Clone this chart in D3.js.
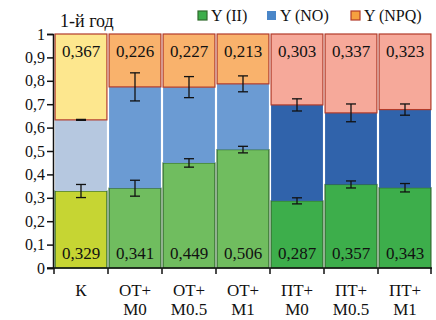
<!DOCTYPE html>
<html>
<head>
<meta charset="utf-8">
<script src="https://cdn.jsdelivr.net/npm/d3@7"></script>
<style>
  body { margin: 0; background: #fff; }
</style>
</head>
<body>
<div id="container"></div>
<script>
const width = 436;
const height = 320;
const serif = "'Liberation Serif', 'Times New Roman', 'DejaVu Serif', serif";

// data
const groups = ["К", "ОТ+\nМ0", "ОТ+\nМ0.5", "ОТ+\nМ1", "ПТ+\nМ0", "ПТ+\nМ0.5", "ПТ+\nМ1"];
const kinds = ["K", "OT", "OT", "OT", "PT", "PT", "PT"];
const yII = [0.329, 0.341, 0.449, 0.506, 0.287, 0.357, 0.343];
const yNPQ = [0.367, 0.226, 0.227, 0.213, 0.303, 0.337, 0.323];
const yNO = yII.map((v, i) => +(1 - v - yNPQ[i]).toFixed(3));
const errII = [0.028, 0.034, 0.018, 0.014, 0.013, 0.015, 0.018];
const errNO = [0.002, 0.06, 0.045, 0.034, 0.026, 0.038, 0.024];
const yTicks = [0, 0.1, 0.2, 0.3, 0.4, 0.5, 0.6, 0.7, 0.8, 0.9, 1];
const series = ["II", "NO", "NPQ"];
const legendLabels = ["Y (II)", "Y (NO)", "Y (NPQ)"];

const palette = {
  K:  { II: "#c6d533", NO: "#b6c8e0", NPQ: "#fde78e" },
  OT: { II: "#70bd5f", NO: "#6b9bd3", NPQ: "#f9b26c" },
  PT: { II: "#3dae4b", NO: "#3063ab", NPQ: "#f6a99a" }
};
const strokes = { II: "#2f6a2c", NO: "none", NPQ: "#b23b2a" };

const margin = { top: 34, right: 4, bottom: 52, left: 54 };

const svg = d3.select("#container")
              .append("svg")
              .attr("width", width)
              .attr("height", height)
              .style("font-family", serif);

const x = d3.scaleBand()
            .domain(groups)
            .range([margin.left, width - margin.right])
            .paddingInner(0.04)
            .paddingOuter(0.02);
const y = d3.scaleLinear()
            .domain([0, 1])
            .range([height - margin.bottom, margin.top]);

const table = groups.map((g, i) => ({ group: g, kind: kinds[i], II: yII[i], NO: yNO[i], NPQ: yNPQ[i] }));
const stacked = d3.stack().keys(series)(table);

stacked.forEach((layer) => {
  svg.append("g")
     .selectAll("rect")
     .data(layer)
     .enter()
     .append("rect")
     .attr("x", d => x(d.data.group))
     .attr("width", x.bandwidth())
     .attr("y", d => y(d[1]))
     .attr("height", d => y(d[0]) - y(d[1]))
     .style("fill", d => palette[d.data.kind][layer.key])
     .style("stroke", strokes[layer.key])
     .style("stroke-width", 1.2);
});

// error bars
const errData = [];
groups.forEach((g, i) => {
  errData.push({ g: g, v: yII[i], e: errII[i] });
  errData.push({ g: g, v: yII[i] + yNO[i], e: errNO[i] });
});
const eg = svg.append("g").attr("stroke", "#111").attr("stroke-width", 1.3);
errData.forEach((d) => {
  const cx = x(d.g) + x.bandwidth() / 2;
  eg.append("line").attr("x1", cx).attr("x2", cx).attr("y1", y(d.v - d.e)).attr("y2", y(d.v + d.e));
  eg.append("line").attr("x1", cx - 5).attr("x2", cx + 5).attr("y1", y(d.v - d.e)).attr("y2", y(d.v - d.e));
  eg.append("line").attr("x1", cx - 5).attr("x2", cx + 5).attr("y1", y(d.v + d.e)).attr("y2", y(d.v + d.e));
});

// value labels
const fmt = v => v.toFixed(3).replace(".", ",");
svg.append("g")
   .selectAll("text")
   .data(table)
   .enter()
   .append("text")
   .attr("x", d => x(d.group) + x.bandwidth() / 2)
   .attr("y", y(0) - 9)
   .attr("text-anchor", "middle")
   .style("font-family", serif)
   .style("font-size", "17px")
   .style("fill", "#111")
   .text(d => fmt(d.II));
svg.append("g")
   .selectAll("text")
   .data(table)
   .enter()
   .append("text")
   .attr("x", d => x(d.group) + x.bandwidth() / 2)
   .attr("y", y(1) + 23)
   .attr("text-anchor", "middle")
   .style("font-family", serif)
   .style("font-size", "17px")
   .style("fill", "#111")
   .text(d => fmt(d.NPQ));

// y axis
const yAxis = d3.axisLeft(y)
                .tickValues(yTicks)
                .tickSize(6)
                .tickFormat(d => String(d).replace(".", ","));
const yg = svg.append("g")
              .attr("transform", "translate(" + (margin.left - 1) + ",0)")
              .call(yAxis)
              .attr("font-family", null);
yg.select(".domain").attr("stroke", "#111").attr("stroke-width", 1.5);
yg.selectAll(".tick line").attr("stroke", "#111").attr("stroke-width", 1.5);
yg.selectAll(".tick text")
  .attr("x", -8)
  .style("font-family", serif)
  .style("font-size", "16px")
  .style("fill", "#111");

// x axis
const xg = svg.append("g").attr("transform", "translate(0," + y(0) + ")");
xg.append("line")
  .attr("x1", margin.left - 7).attr("x2", width - margin.right)
  .attr("stroke", "#111").attr("stroke-width", 1.5);
const bounds = groups.map(g => x(g) - x.step() * x.paddingInner() / 2).concat([width - margin.right - 1]);
xg.selectAll(".xt")
  .data(bounds)
  .enter()
  .append("line")
  .attr("x1", d => d).attr("x2", d => d)
  .attr("y1", 0).attr("y2", 6)
  .attr("stroke", "#111").attr("stroke-width", 1.5);
const xl = xg.selectAll(".xl")
             .data(groups)
             .enter()
             .append("text")
             .attr("text-anchor", "middle")
             .style("font-family", serif)
             .style("font-size", "17px")
             .style("fill", "#111");
xl.each(function(d) {
  const lines = d.split("\n");
  const t = d3.select(this);
  lines.forEach((s, j) => {
    t.append("tspan")
     .attr("x", x(d) + x.bandwidth() / 2)
     .attr("y", 28 + j * 19)
     .text(s);
  });
});

// title
svg.append("text")
   .attr("x", 60)
   .attr("y", 27)
   .style("font-family", serif)
   .style("font-size", "18px")
   .style("fill", "#111")
   .text("1-й год");

// legend
const legendX = [198, 267, 351];
const legendFill = ["#3dae4b", "#4a86c8", "#f5a040"];
const legendStroke = ["#2f6a2c", "none", "#b23b2a"];
const lg = svg.append("g");
legendLabels.forEach((l, i) => {
  lg.append("rect")
    .attr("x", legendX[i]).attr("y", 11)
    .attr("width", 9).attr("height", 9)
    .style("fill", legendFill[i])
    .style("stroke", legendStroke[i])
    .style("stroke-width", 1.2);
  lg.append("text")
    .attr("x", legendX[i] + 13)
    .attr("y", 21)
    .style("font-family", serif)
    .style("font-size", "16px")
    .style("fill", "#111")
    .text(l);
});
</script>
</body>
</html>
